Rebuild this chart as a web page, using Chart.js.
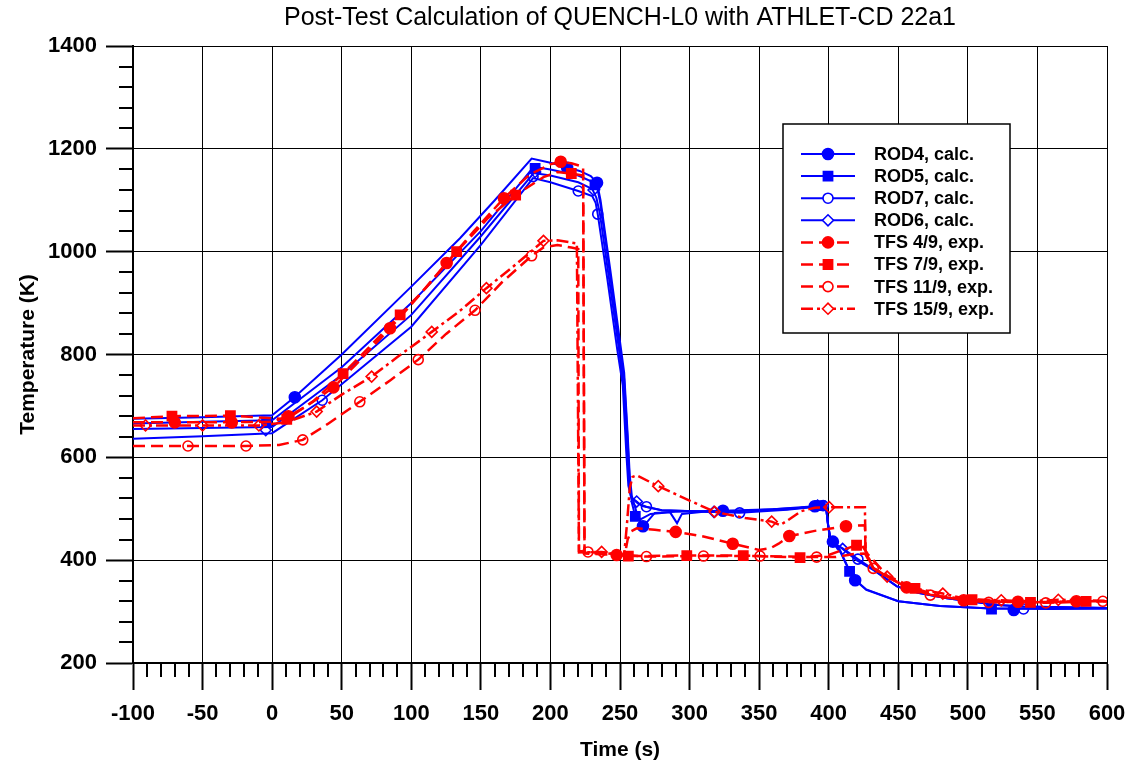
<!DOCTYPE html>
<html><head><meta charset="utf-8">
<script src="https://cdn.jsdelivr.net/npm/chart.js@4.4.1/dist/chart.umd.min.js"></script>
<style>html,body{margin:0;padding:0;background:#fff;overflow:hidden}</style>
</head><body>
<canvas id="c" width="1134" height="769"></canvas>
<script>
// ---------- data (time s, temperature K) ----------
const TITLE = 'Post-Test Calculation of QUENCH-L0 with ATHLET-CD 22a1';
const X_TITLE = 'Time (s)';
const Y_TITLE = 'Temperature (K)';
const X_MIN = -100, X_MAX = 600, X_STEP = 50, X_MINOR = 10;
const Y_MIN = 200, Y_MAX = 1400, Y_STEP = 200, Y_MINOR = 40;

const rod4 = [[-100,675],[-50,678],[0,682],[16,717],[50,800],[100,932],[135,1026],[160,1100],[186.5,1181],[200,1173],[212,1164],[221,1157],[229,1147],[233.5,1134],[236,1100],[243,965],[250,825],[253,765],[255.5,645],[257,565],[258.5,525],[262,492],[266.5,466],[270,476],[275,492],[290,494],[324,496],[360,499],[385,504],[398,506],[399.5,470],[401,442],[403,436],[408,420],[415,379],[419,361],[427,342],[450,320],[480,311],[516,306],[560,305],[600,306]];
const rod4Marks = [[16.3,717],[212,1163],[233.5,1134],[266.5,466],[324,496],[390,505],[403,436],[419,361],[533,303]];

const rod5 = [[-100,666],[-50,669],[0,672],[50,775],[100,900],[150,1040],[188,1165],[200,1160],[220,1148],[230,1136],[234,1120],[236,1092],[243,952],[250,812],[253,752],[255.5,632],[257,552],[258.5,512],[261,485],[265,480],[272,490],[286,493],[291,472],[294.5,490],[310,494],[340,496],[380,502],[398,506],[399.5,468],[401,440],[404,430],[408,418],[415,378],[419,362],[427,343],[450,320],[480,311],[517,306],[600,306]];
const rod5Marks = [[-4,669],[189,1162],[232,1130],[261,485],[394,506],[415,378],[517,305]];

const rod7 = [[-100,636],[-50,641],[0,647],[36,711],[100,854],[150,1013],[187.5,1143],[200,1135],[220,1118],[230,1108],[232.5,1095],[234,1073],[241,945],[248,810],[252,740],[254.5,610],[256,545],[258,522],[263,510],[269,504],[280,497],[336,492],[370,498],[398,506],[399.5,470],[401,445],[403,433],[410,423],[421,402],[432,382],[449,349],[465,336],[485,326],[504,319],[521,313],[540,310],[600,307]];
const rod7Marks = [[36,711],[187.5,1146],[220,1118],[234,1073],[269,504],[336,492],[396,506],[421,402],[540,305]];

const rod6 = [[-100,655],[-50,657],[0,659],[50,760],[100,877],[150,1030],[188,1153],[200,1148],[220,1135],[230,1122],[233,1105],[235.5,1075],[242,950],[249,815],[252.5,745],[255,620],[256.5,550],[258,522],[262,514],[266,505],[280,497],[317.5,494],[370,499],[398,507],[399.5,470],[401,445],[403,433],[408,426],[420,400],[432,381],[449,349],[465,336],[485,326],[504,319],[521,313],[540,310],[600,307]];
const rod6Marks = [[-4.6,653],[189,1155],[231,1120],[262,514],[317.5,494],[392,506],[410,422]];

const tfs4 = [[-100,668],[-50,668],[0,669],[11.7,680],[25,700],[44,736],[60,780],[84.7,851],[100,897],[125.4,978],[145,1040],[166.6,1104],[185,1150],[200,1170],[207.4,1175],[215,1172],[223.5,1165],[224.5,413],[247.6,410],[253.5,411],[255.5,440],[258,456],[262,462],[275,459],[290,455],[310,446],[331,432],[350,420],[358,423],[364,432],[372,447],[390,457],[412,466],[426,468],[426.5,415],[432,385],[442,368],[456,347],[473,333],[497,322],[516,319],[536,319],[557,318],[578,320],[600,320]];
const tfs4Marks = [[-70,668],[-29,668],[11.7,680],[44,736],[84.7,851],[125.4,978],[166.6,1104],[207.4,1175],[247.6,410],[290,455],[331,432],[371.7,447],[412.4,466],[456,347],[497,322],[536,319],[578,320]];

const tfs7 = [[-100,676],[-72,680],[-30,681],[0,676],[10.5,674],[30,710],[51,763],[70,815],[92,877],[110,928],[132.6,1000],[155,1065],[175,1110],[195,1145],[205,1155],[215,1152],[223.5,1148],[224.5,415],[240,412],[256,408],[298,409],[338.6,409],[379.4,405],[400,410],[410,420],[420,429],[424,428],[428,412],[442,370],[462,345],[480,330],[503,323],[545,318],[585,320],[600,320]];
const tfs7Marks = [[-72,680],[-30,681],[10.5,674],[51,763],[92,877],[132.6,1000],[175,1110],[215,1152],[256,408],[298,409],[338.6,409],[379.4,405],[420,429],[462,345],[503,323],[545,318],[585,320]];

const tfs11 = [[-100,622],[-60,622],[-19,622],[5,624],[22,634],[40,665],[63,708],[85,750],[105,790],[125,840],[145.8,886],[165,940],[186.5,992],[195,1008],[205,1013],[215,1008],[220,1005],[220.5,418],[227,416],[269,407],[310,408],[350.6,408],[391.3,406],[405,406],[418,412],[426,413],[432,384],[442,368],[456,348],[473,332],[497,323],[515,318],[537,319],[556,317],[597,320],[600,320]];
const tfs11Marks = [[-60.5,622],[-18.8,622],[22,634],[63,708],[105,790],[145.8,886],[186.5,992],[227,416],[269,407],[310,408],[350.6,408],[391.3,406],[432,384],[473,332],[515,318],[556,317],[597,320]];

const tfs15 = [[-100,662],[-50,662],[-9.5,662],[10,668],[32,689],[50,722],[71.5,757],[90,795],[114.7,844],[135,885],[154,929],[175,975],[195,1021],[205,1022],[219,1016],[220.5,415],[236.8,416],[253,410],[255,470],[257,540],[259,562],[262,565],[277.5,544],[300,516],[318,494],[340,482],[359,475],[365,468],[372,480],[380,495],[390,502],[400.4,503],[426,503],[426.5,418],[432,385],[442,368],[456,348],[482,335],[500,324],[524,322],[545,320],[565,323],[600,321]];
const tfs15Marks = [[-91,662],[-50,662],[-9.5,662],[32,689],[71.5,757],[114.7,844],[154,929],[195,1021],[236.8,416],[277.5,544],[318,494],[359,475],[400.4,503],[442,368],[482,335],[524,322],[565,323]];

// ---------- styling ----------
const BLUE = '#0000ff', RED = '#ff0000';
const FONT = "'Liberation Sans', Arial, Helvetica, sans-serif";
const series = [
  {label:'ROD4, calc.', data:rod4, marks:rod4Marks, color:BLUE, dash:[], width:2, style:'circle', filled:true, r:5.5, order:2},
  {label:'ROD5, calc.', data:rod5, marks:rod5Marks, color:BLUE, dash:[], width:2, style:'rect', filled:true, r:6.5, order:2},
  {label:'ROD7, calc.', data:rod7, marks:rod7Marks, color:BLUE, dash:[], width:2, style:'circle', filled:false, r:5, order:2},
  {label:'ROD6, calc.', data:rod6, marks:rod6Marks, color:BLUE, dash:[], width:2, style:'rectRot', filled:false, r:5.5, order:2},
  {label:'TFS 4/9, exp.', data:tfs4, marks:tfs4Marks, color:RED, dash:[12,6], width:2.5, style:'circle', filled:true, r:5.5, order:1},
  {label:'TFS 7/9, exp.', data:tfs7, marks:tfs7Marks, color:RED, dash:[12,6], width:2.5, style:'rect', filled:true, r:6.5, order:1},
  {label:'TFS 11/9, exp.', data:tfs11, marks:tfs11Marks, color:RED, dash:[12,6], width:2.5, style:'circle', filled:false, r:5, order:1},
  {label:'TFS 15/9, exp.', data:tfs15, marks:tfs15Marks, color:RED, dash:[12,4,3,4], width:2.5, style:'rectRot', filled:false, r:5.5, order:1}
];

const toXY = arr => arr.map(p => ({x:p[0], y:p[1]}));
const datasets = [];
series.forEach(s => {
  datasets.push({label:s.label, data:toXY(s.data), borderColor:s.color, borderWidth:s.width, borderDash:s.dash,
    pointRadius:0, pointHoverRadius:0, tension:0, fill:false, order:s.order});
  datasets.push({label:s.label+' markers', data:toXY(s.marks), showLine:false, pointStyle:s.style, pointRadius:s.r,
    pointHoverRadius:s.r, pointBorderWidth:1.6, pointBorderColor:s.color,
    pointBackgroundColor: s.filled ? s.color : 'rgba(0,0,0,0)', order:s.order - 0.5});
});

const bgPlugin = {id:'bg', beforeDraw(chart){const c=chart.ctx; c.save(); c.fillStyle='#fff'; c.fillRect(0,0,chart.width,chart.height); c.restore();}};

const minorTicks = {id:'minorTicks', afterDraw(chart){
  const {ctx, scales:{x, y}} = chart;
  ctx.save(); ctx.strokeStyle='#000'; ctx.lineWidth=2; ctx.beginPath();
  for (let v = X_MIN; v <= X_MAX; v += X_MINOR) {
    if ((v - X_MIN) % X_STEP === 0) continue;
    const px = Math.round(x.getPixelForValue(v));
    ctx.moveTo(px, y.bottom); ctx.lineTo(px, y.bottom + 14);
  }
  for (let v = Y_MIN; v <= Y_MAX; v += Y_MINOR) {
    if ((v - Y_MIN) % Y_STEP === 0) continue;
    const py = Math.round(y.getPixelForValue(v));
    ctx.moveTo(x.left, py); ctx.lineTo(x.left - 14, py);
  }
  ctx.stroke(); ctx.restore();
}};

const legendBox = {id:'legendBox', afterDraw(chart){
  const ctx = chart.ctx;
  const bx = 783, by = 124, bw = 227, bh = 209;
  ctx.save();
  ctx.fillStyle = '#fff'; ctx.fillRect(bx, by, bw, bh);
  ctx.strokeStyle = '#000'; ctx.lineWidth = 1.5; ctx.strokeRect(bx, by, bw, bh);
  series.forEach((s, i) => {
    const yy = 154 + i * 22.1;
    ctx.save();
    ctx.strokeStyle = s.color; ctx.lineWidth = s.width; ctx.setLineDash(s.dash);
    ctx.beginPath(); ctx.moveTo(801, yy); ctx.lineTo(855, yy); ctx.stroke();
    ctx.restore();
    ctx.save();
    ctx.fillStyle = s.filled ? s.color : '#fff'; ctx.strokeStyle = s.color; ctx.lineWidth = 1.6;
    Chart.helpers.drawPoint(ctx, {pointStyle:s.style, radius:s.r, rotation:0, borderWidth:1.6}, 828, yy);
    ctx.restore();
    ctx.fillStyle = '#000'; ctx.font = 'bold 18px ' + FONT; ctx.textBaseline = 'middle'; ctx.textAlign = 'left';
    ctx.fillText(s.label, 874, yy + 1);
  });
  ctx.restore();
}};

new Chart(document.getElementById('c'), {
  type:'line',
  data:{datasets},
  options:{
    responsive:false, animation:false, events:[],
    layout:{padding:{left:0, right:27, top:0, bottom:0}},
    plugins:{
      legend:{display:false}, tooltip:{enabled:false},
      title:{display:true, fullSize:false, text:TITLE, color:'#000', font:{family:FONT, size:25, weight:'normal'}, padding:{top:3, bottom:13}}
    },
    scales:{
      x:{type:'linear', min:X_MIN, max:X_MAX,
        ticks:{stepSize:X_STEP, color:'#000', font:{family:FONT, size:22, weight:'bold'}, padding:11, maxRotation:0, callback:v => String(v)},
        grid:{color:'#000', lineWidth:1, tickLength:27, tickWidth:2, tickColor:'#000'},
        border:{display:true, color:'#000', width:2},
        title:{display:true, text:X_TITLE, color:'#000', font:{family:FONT, size:21, weight:'bold'}, padding:{top:0, bottom:6}},
        afterFit(s){ s.height = 106; s.paddingRight = 0; s.paddingLeft = 0; }
      },
      y:{type:'linear', min:Y_MIN, max:Y_MAX,
        ticks:{stepSize:Y_STEP, color:'#000', font:{family:FONT, size:22, weight:'bold'}, padding:9, callback:v => String(v)},
        grid:{color:'#000', lineWidth:1, tickLength:27, tickWidth:2, tickColor:'#000'},
        border:{display:true, color:'#000', width:2},
        title:{display:true, text:Y_TITLE, color:'#000', font:{family:FONT, size:21, weight:'bold'}, padding:{top:16, bottom:0}},
        afterFit(s){ s.width = 133; }
      }
    }
  },
  plugins:[bgPlugin, minorTicks, legendBox]
});
</script>
</body></html>
